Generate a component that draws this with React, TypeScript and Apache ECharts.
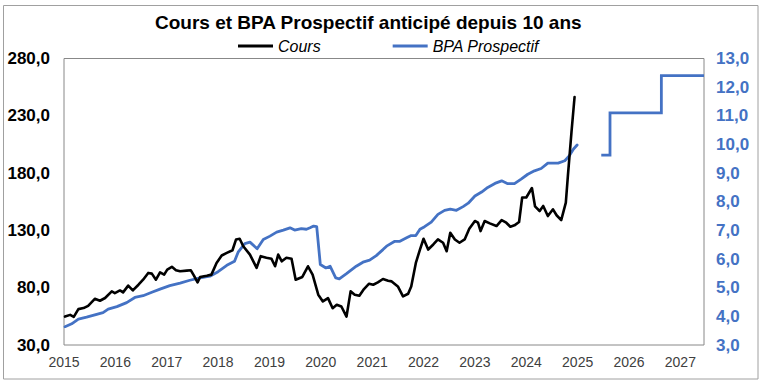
import React, { useEffect, useRef } from "react";
import * as echarts from "echarts";

const title = "Cours et BPA Prospectif anticipé depuis 10 ans";
const seriesNames = ["Cours", "BPA Prospectif"];

const coursDates = [
  2015.02, 2015.12, 2015.19, 2015.28, 2015.38, 2015.47, 2015.6, 2015.7, 2015.8, 2015.93, 2015.99,
  2016.09, 2016.15, 2016.25, 2016.34, 2016.45, 2016.54, 2016.64, 2016.71, 2016.79, 2016.87, 2016.95,
  2017.01, 2017.1, 2017.18, 2017.26, 2017.39, 2017.47, 2017.53, 2017.6, 2017.65, 2017.78, 2017.87, 2017.97,
  2018.07, 2018.17, 2018.28, 2018.35, 2018.42, 2018.49, 2018.62, 2018.75, 2018.83, 2018.94,
  2019.04, 2019.11, 2019.17, 2019.24, 2019.33, 2019.43, 2019.51, 2019.64, 2019.75, 2019.84, 2019.95,
  2020.04, 2020.14, 2020.23, 2020.31, 2020.4, 2020.5, 2020.58, 2020.66, 2020.75, 2020.84, 2020.94,
  2021.02, 2021.11, 2021.21, 2021.31, 2021.38, 2021.5, 2021.6, 2021.7, 2021.76, 2021.85, 2021.93,
  2022.0, 2022.09, 2022.19, 2022.28, 2022.38, 2022.45, 2022.52, 2022.61, 2022.7, 2022.8, 2022.89,
  2023.0, 2023.06, 2023.11, 2023.19, 2023.29, 2023.42, 2023.52, 2023.61, 2023.69, 2023.77, 2023.86, 2023.92,
  2024.0, 2024.11, 2024.17, 2024.26, 2024.33, 2024.42, 2024.52, 2024.59, 2024.68, 2024.77, 2024.81, 2024.88, 2024.94,
];
const coursValues = [
  54.8, 56.3, 54.6, 61.3, 62.2, 64.2, 70.3, 68.6, 71, 76.8, 75.3,
  77.6, 75.9, 81.8, 77.6, 82.6, 87, 92.9, 92.3, 87, 93.4, 91.4,
  95.8, 98.2, 95.2, 94.3, 94.9, 95.2, 90.5, 84.6, 89.4, 90.5, 91.4, 101.6,
  108.1, 110.4, 112.7, 122.1, 122.7, 116.2, 108.9, 97.3, 107.5, 106.1,
  105.2, 98.7, 108.9, 103, 106.1, 105.2, 87, 89.4, 98.7, 91.4, 73.9,
  68, 70.9, 62.1, 65.1, 63.6, 54.8, 76.8, 73.9, 73, 78.8, 83.5,
  82.6, 84.6, 87.6, 86.1, 85.5, 81.1, 72.4, 74.7, 81.1, 101.6, 113.3,
  122.7, 113.3, 117.7, 122.1, 119.2, 111.8, 128, 122.1, 119.2, 122.1, 131.4,
  138.2, 136.7, 129.4, 138.2, 136.1, 133.8, 139, 136.7, 133.2, 134.4, 137.3, 158.7,
  158.7, 167, 151, 146.9, 151.3, 142.5, 148.4, 143.2, 139, 154.3, 177.6, 215.7, 246.4,
];

const bpaDates = [
  2015.02, 2015.15, 2015.28, 2015.44, 2015.6, 2015.76, 2015.86, 2016.03, 2016.22, 2016.38, 2016.54,
  2016.71, 2016.87, 2017.06, 2017.26, 2017.45, 2017.65, 2017.84, 2018.0, 2018.17, 2018.32, 2018.39,
  2018.52, 2018.62, 2018.76, 2018.88, 2019.01, 2019.14, 2019.27, 2019.4, 2019.49, 2019.62, 2019.72,
  2019.79, 2019.86, 2019.92, 2019.99, 2020.1, 2020.18, 2020.29, 2020.36, 2020.5, 2020.69, 2020.82,
  2020.95, 2021.08, 2021.21, 2021.28, 2021.44, 2021.54, 2021.67, 2021.76, 2021.85, 2021.93, 2022.02,
  2022.15, 2022.28, 2022.41, 2022.52, 2022.64, 2022.77, 2022.87, 2023.0, 2023.13, 2023.25, 2023.39,
  2023.52, 2023.64, 2023.77, 2023.9, 2024.03, 2024.16, 2024.29, 2024.42, 2024.62, 2024.75, 2024.84,
  2024.92, 2024.99,
];
const bpaValues = [
  3.64, 3.74, 3.9, 3.97, 4.05, 4.13, 4.25, 4.34, 4.48, 4.66, 4.72,
  4.84, 4.95, 5.07, 5.16, 5.26, 5.34, 5.4, 5.56, 5.78, 5.92, 6.24,
  6.54, 6.59, 6.36, 6.68, 6.8, 6.94, 7.01, 7.09, 7.01, 7.06, 7.04,
  7.09, 7.15, 7.13, 5.81, 5.69, 5.75, 5.34, 5.31, 5.49, 5.75, 5.89,
  5.96, 6.12, 6.33, 6.45, 6.62, 6.62, 6.74, 6.82, 6.82, 7.04, 7.13,
  7.29, 7.56, 7.7, 7.74, 7.7, 7.83, 7.95, 8.2, 8.34, 8.5, 8.64,
  8.73, 8.63, 8.63, 8.79, 8.96, 9.08, 9.16, 9.35, 9.35, 9.43, 9.61,
  9.84, 9.98,
];

const forecastDates = [2025.46, 2025.63, 2025.63, 2026.63, 2026.63, 2027.46];
const forecastValues = [9.63, 9.63, 11.1, 11.1, 12.4, 12.4];

const leftTicks = { min: 30, max: 280, interval: 50 };
const rightTicks = { min: 3, max: 13, interval: 1 };
const xRange = { min: 2015, max: 2027.46, interval: 1 };

const BLUE = "#4472C4";
const FONT = "'Liberation Sans', Arial, sans-serif";

const zip = (xs: number[], ys: number[]) => xs.map((x, i) => [x, ys[i]]);
const fmt = (v: number) => v.toFixed(1).replace(".", ",");

export default function App() {
  const ref = useRef<HTMLDivElement>(null);
  useEffect(() => {
    if (!ref.current) return;
    const chart = echarts.init(ref.current, undefined, { renderer: "svg" });
    chart.setOption({
      animation: false,
      backgroundColor: "#fff",
      title: {
        text: title,
        left: 150,
        top: 8,
        textStyle: { fontFamily: FONT, fontSize: 19, fontWeight: "bold", color: "#000" },
      },
      legend: {
        data: seriesNames,
        left: 233,
        top: 33,
        itemGap: 72,
        itemWidth: 35,
        itemHeight: 3,
        icon: "rect",
        textStyle: { fontFamily: FONT, fontSize: 16, fontStyle: "italic", color: "#000" },
      },
      graphic: [
        {
          type: "rect",
          shape: { x: 3.5, y: 5.5, width: 754.5, height: 373.5 },
          style: { fill: "none", stroke: "#a0a0a0", lineWidth: 1 },
          silent: true,
        },
      ],
      grid: {
        left: 64,
        right: 56,
        top: 58.5,
        bottom: 41,
        show: true,
        borderColor: "#888",
        borderWidth: 1,
      },
      xAxis: {
        type: "value",
        min: xRange.min,
        max: xRange.max,
        interval: xRange.interval,
        axisLine: { show: false },
        axisTick: { show: false },
        splitLine: { show: false },
        axisLabel: {
          margin: 10,
          fontFamily: FONT,
          fontSize: 14,
          color: "#404040",
          formatter: (v: number) => (Number.isInteger(v) ? String(v) : ""),
        },
      },
      yAxis: [
        {
          type: "value",
          min: leftTicks.min,
          max: leftTicks.max,
          interval: leftTicks.interval,
          axisLine: { show: false },
          axisTick: { show: false },
          splitLine: { show: false },
          axisLabel: {
            margin: 14,
            fontFamily: FONT,
            fontSize: 17,
            fontWeight: "bold",
            color: "#000",
            formatter: fmt,
          },
        },
        {
          type: "value",
          position: "right",
          min: rightTicks.min,
          max: rightTicks.max,
          interval: rightTicks.interval,
          axisLine: { show: false },
          axisTick: { show: false },
          splitLine: { show: false },
          axisLabel: {
            margin: 12,
            fontFamily: FONT,
            fontSize: 17,
            fontWeight: "bold",
            color: BLUE,
            formatter: fmt,
          },
        },
      ],
      series: [
        {
          name: seriesNames[0],
          type: "line",
          yAxisIndex: 0,
          showSymbol: false,
          data: zip(coursDates, coursValues),
          itemStyle: { color: "#000" },
          lineStyle: { color: "#000", width: 2.6, join: "round", cap: "round" },
          z: 3,
        },
        {
          name: seriesNames[1],
          type: "line",
          yAxisIndex: 1,
          showSymbol: false,
          data: zip(bpaDates, bpaValues),
          itemStyle: { color: BLUE },
          lineStyle: { color: BLUE, width: 2.8, join: "round", cap: "round" },
          z: 2,
        },
        {
          name: seriesNames[1],
          type: "line",
          yAxisIndex: 1,
          showSymbol: false,
          data: zip(forecastDates, forecastValues),
          itemStyle: { color: BLUE },
          lineStyle: { color: BLUE, width: 2.8, join: "miter", cap: "butt" },
          z: 2,
        },
      ],
    });
    return () => chart.dispose();
  }, []);
  return (
    <div
      ref={ref}
      style={{ position: "fixed", left: 0, top: 0, width: 760, height: 386 }}
    />
  );
}
